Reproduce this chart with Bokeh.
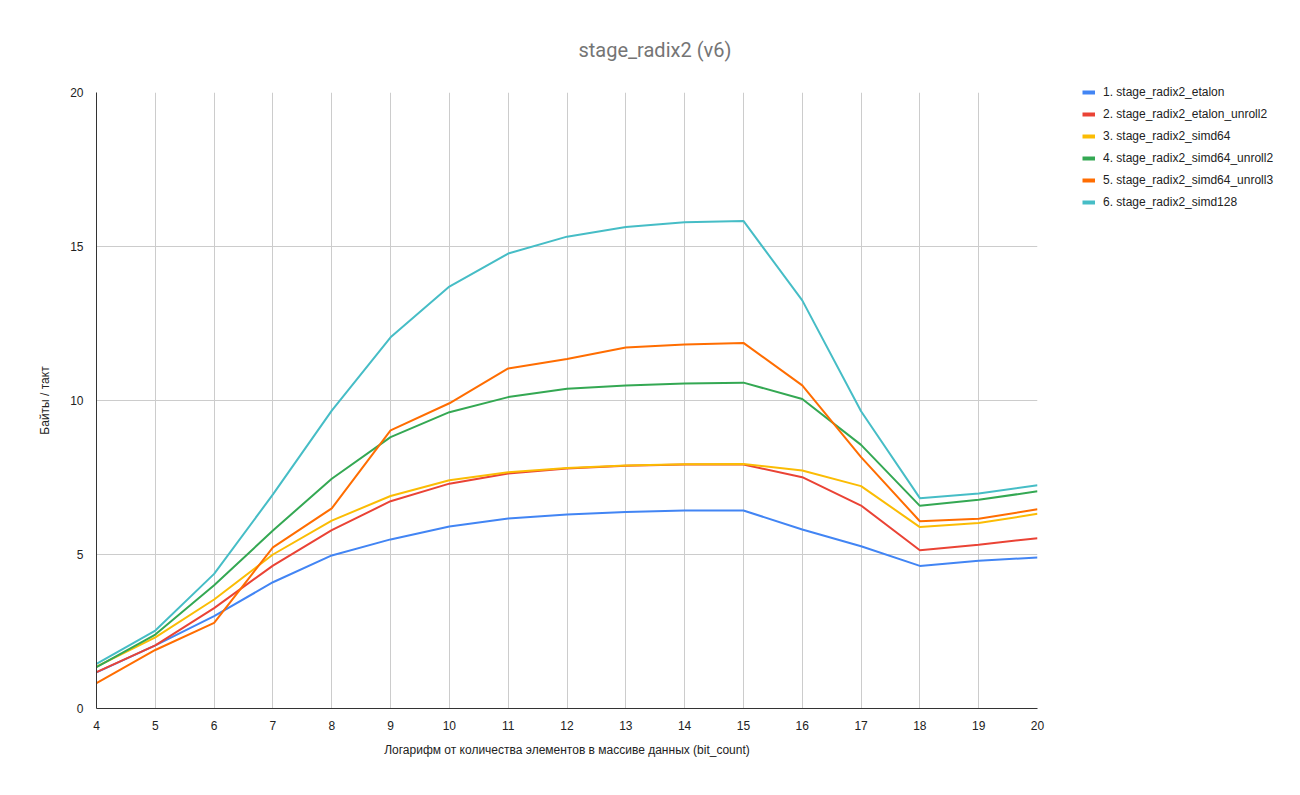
from bokeh.plotting import figure
from bokeh.models import Legend, LegendItem, ColumnDataSource, FixedTicker, Range1d
from bokeh.embed import file_html
from bokeh.resources import INLINE

bit_count = [4, 5, 6, 7, 8, 9, 10, 11, 12, 13, 14, 15, 16, 17, 18, 19, 20]

etalon = [1.17, 2.05, 3.0, 4.1, 4.97, 5.49, 5.91, 6.17, 6.3, 6.38, 6.43, 6.43, 5.81, 5.27, 4.63, 4.8, 4.9]
etalon_unroll2 = [1.18, 2.05, 3.26, 4.64, 5.79, 6.73, 7.3, 7.63, 7.79, 7.88, 7.92, 7.92, 7.51, 6.59, 5.14, 5.32, 5.53]
simd64 = [1.36, 2.31, 3.54, 5.0, 6.1, 6.9, 7.41, 7.67, 7.81, 7.89, 7.93, 7.94, 7.73, 7.22, 5.89, 6.02, 6.32]
simd64_unroll2 = [1.34, 2.4, 4.0, 5.78, 7.46, 8.81, 9.62, 10.11, 10.38, 10.49, 10.55, 10.58, 10.05, 8.56, 6.58, 6.78, 7.05]
simd64_unroll3 = [0.82, 1.9, 2.78, 5.23, 6.5, 9.03, 9.91, 11.04, 11.35, 11.72, 11.82, 11.87, 10.49, 8.16, 6.08, 6.16, 6.47]
simd128 = [1.45, 2.53, 4.37, 6.95, 9.67, 12.05, 13.7, 14.77, 15.32, 15.63, 15.79, 15.83, 13.25, 9.65, 6.83, 6.98, 7.25]

series_names = [
    "1. stage_radix2_etalon",
    "2. stage_radix2_etalon_unroll2",
    "3. stage_radix2_simd64",
    "4. stage_radix2_simd64_unroll2",
    "5. stage_radix2_simd64_unroll3",
    "6. stage_radix2_simd128",
]
series_values = [etalon, etalon_unroll2, simd64, simd64_unroll2, simd64_unroll3, simd128]
colors = ["#4285F4", "#EA4335", "#FBBC04", "#34A853", "#FF6D01", "#46BDC6"]

FONT = "Liberation Sans"

p = figure(frame_width=941, frame_height=616, output_backend="svg", toolbar_location=None,
           x_range=Range1d(4, 20), y_range=Range1d(0, 20),
           min_border_left=96, min_border_right=0, min_border_top=92, min_border_bottom=87)

p.title.text = "stage_radix2 (v6)"
p.title.align = "left"
p.title.text_font = "Roboto"
p.title.text_font_style = "normal"
p.title.text_font_size = "20px"
p.title.text_color = "#757575"
p.title.offset = 482
p.title.standoff = 62

p.outline_line_color = None
p.background_fill_color = "white"
p.border_fill_color = "white"

p.xaxis.ticker = FixedTicker(ticks=bit_count)
p.yaxis.ticker = FixedTicker(ticks=[0, 5, 10, 15, 20])
for ax in (p.xaxis, p.yaxis):
    ax.major_tick_line_color = None
    ax.minor_tick_line_color = None
    ax.axis_line_color = "#333333"
    ax.axis_line_width = 1
    ax.major_label_text_font = FONT
    ax.major_label_text_font_size = "12px"
    ax.major_label_text_color = "#222222"
    ax.axis_label_text_font = FONT
    ax.axis_label_text_font_size = "12px"
    ax.axis_label_text_font_style = "normal"
    ax.axis_label_text_color = "#222222"

p.xaxis.axis_label = "Логарифм от количества элементов в массиве данных (bit_count)"
p.yaxis.axis_label = "Байты / такт"
p.xaxis.major_label_standoff = 6
p.yaxis.major_label_standoff = 7
p.xaxis.axis_label_standoff = 10
p.yaxis.axis_label_standoff = 15

p.xgrid.grid_line_color = "#cccccc"
p.ygrid.grid_line_color = "#cccccc"
p.xgrid.ticker = p.xaxis.ticker
p.ygrid.ticker = p.yaxis.ticker

items = []
for name, vals, c in zip(series_names, series_values, colors):
    src = ColumnDataSource(dict(x=bit_count, y=vals))
    p.line("x", "y", source=src, line_color=c, line_width=2)
    key = p.line(x=[bit_count[0]], y=[float("nan")], line_color=c, line_width=4)
    items.append(LegendItem(label=name, renderers=[key]))

legend = Legend(items=items, location=(45, 498), orientation="vertical")
legend.label_text_font = FONT
legend.label_text_font_size = "12px"
legend.label_text_color = "#222222"
legend.glyph_width = 13
legend.glyph_height = 16
legend.label_height = 16
legend.spacing = 6
legend.padding = 0
legend.margin = 0
legend.border_line_color = None
legend.background_fill_alpha = 0
legend.label_standoff = 8
p.add_layout(legend, "right")

open("out.html", "w").write(file_html(p, INLINE))
